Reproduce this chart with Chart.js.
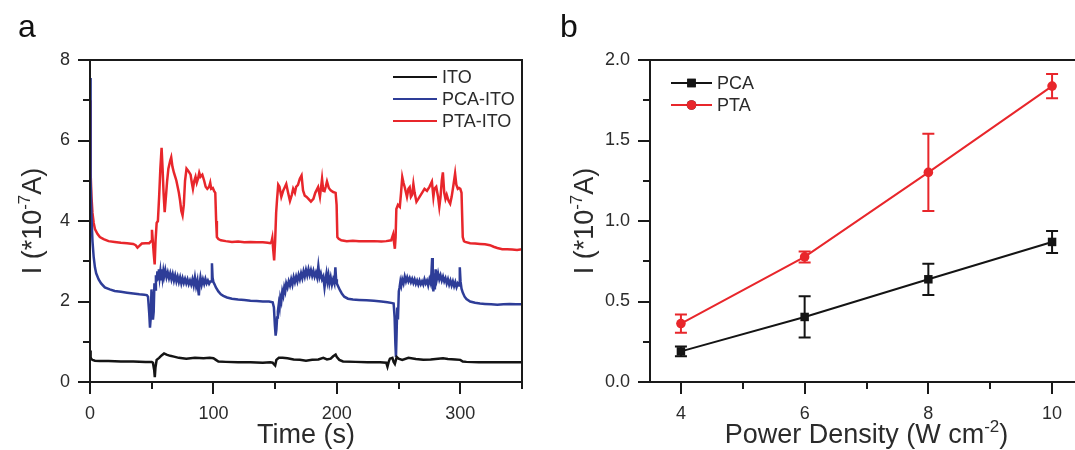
<!DOCTYPE html>
<html>
<head>
<meta charset="utf-8">
<script src="https://cdn.jsdelivr.net/npm/chart.js@4.4.1/dist/chart.umd.min.js"></script>
<style>
  html, body { margin: 0; padding: 0; background: #fff; overflow: hidden; }
  body { width: 1075px; height: 450px; position: relative; }
  canvas { position: absolute; top: 0; }
  #chartA { left: 0; }
  #chartB { left: 540px; }
</style>
</head>
<body>
<canvas id="chartA" width="540" height="450"></canvas>
<canvas id="chartB" width="560" height="450"></canvas>
<script>
// ---- panel a: photocurrent vs time, [t (s), I (1e-7 A)] ----
const itoTrace = [[0,0.78],[0.5,0.62],[1,0.57],[2,0.55],[4,0.53],[8,0.52],[15,0.52],[25,0.51],[35,0.51],[45,0.5],[50,0.5],[51,0.48],[52,0.3],[52.5,0.12],[53,0.35],[54,0.55],[56,0.6],[58,0.66],[60,0.71],[62,0.68],[65,0.65],[68,0.63],[72,0.6],[78,0.58],[85,0.6],[92,0.59],[97,0.6],[100,0.59],[102,0.55],[104,0.51],[110,0.5],[120,0.49],[130,0.49],[140,0.48],[146,0.49],[148,0.48],[149,0.44],[150,0.41],[151,0.55],[153,0.6],[156,0.6],[160,0.59],[165,0.56],[170,0.55],[175,0.53],[180,0.55],[185,0.56],[189,0.6],[192,0.56],[195,0.58],[197,0.64],[199,0.68],[200,0.62],[202,0.55],[205,0.51],[215,0.5],[225,0.49],[235,0.49],[240,0.48],[241,0.38],[242,0.5],[243,0.58],[245,0.6],[246,0.5],[247,0.45],[248.5,0.62],[250,0.58],[253,0.55],[258,0.6],[264,0.57],[270,0.55],[276,0.56],[282,0.58],[286,0.59],[290,0.57],[296,0.56],[300,0.55],[302,0.51],[305,0.5],[315,0.49],[325,0.49],[335,0.49],[345,0.49],[350,0.49]];

const pcaItoTrace = [[0,7.55],[0.3,6.2],[0.7,5.0],[1.2,4.1],[2,3.5],[3,3.1],[4,2.85],[5,2.7],[7,2.55],[9,2.45],[12,2.35],[16,2.3],[20,2.26],[25,2.24],[30,2.22],[35,2.2],[40,2.18],[44,2.17],[46,2.16],[47,2.12],[48,1.7],[48.6,1.35],[49.2,1.6],[49.8,2.3],[50.4,2.05],[51,1.55],[51.6,1.75],[52.2,2.45],[52.8,2.3],[53.4,2.65],[54,2.5],[54.6,2.75],[55.2,2.55],[55.8,2.8],[56.4,2.6],[57,2.75],[57.6,2.55],[58.2,2.8],[58.8,2.6],[59.4,2.75],[60,2.62],[61,2.78],[62,2.6],[63,2.72],[64,2.58],[65,2.7],[66,2.55],[67,2.68],[68,2.52],[69,2.65],[70,2.5],[71,2.62],[72,2.48],[73,2.6],[74,2.45],[75,2.58],[76,2.46],[77,2.56],[78,2.45],[79,2.55],[80,2.43],[81,2.52],[82,2.42],[83,2.55],[84,2.4],[85,2.6],[86,2.38],[87,2.52],[87.6,2.3],[88.2,2.15],[88.8,2.45],[89.5,2.6],[90.5,2.42],[91.5,2.55],[92.5,2.44],[93.5,2.56],[94.5,2.45],[95.5,2.52],[96.5,2.44],[97.5,2.5],[98.3,2.5],[98.8,2.95],[99.3,2.6],[100,2.48],[101,2.42],[102,2.35],[104,2.25],[106,2.18],[108,2.14],[111,2.1],[115,2.07],[120,2.05],[125,2.04],[130,2.02],[135,2.01],[140,2.0],[145,2.0],[148,1.98],[149,1.85],[149.8,1.4],[150.4,1.15],[151,1.3],[151.6,1.6],[152.2,1.75],[153,1.95],[153.6,1.85],[154.2,2.1],[155,2.0],[155.8,2.25],[156.6,2.15],[157.4,2.35],[158.2,2.25],[159,2.45],[160,2.35],[161,2.5],[162,2.4],[163,2.55],[164,2.42],[165,2.6],[166,2.48],[167,2.62],[168,2.5],[169,2.66],[170,2.55],[171,2.7],[172,2.58],[173,2.75],[174,2.62],[175,2.78],[176,2.65],[177,2.8],[178,2.66],[179,2.78],[180,2.64],[181,2.76],[182,2.62],[183,2.72],[184,2.6],[185,2.88],[186,2.6],[187,2.7],[188,2.55],[189,2.62],[190,2.35],[190.8,2.55],[191.6,2.7],[192.4,2.5],[193.2,2.65],[194,2.45],[195,2.6],[196,2.42],[197,2.55],[198,2.45],[198.8,2.85],[199.4,2.55],[200,2.45],[201,2.38],[202.5,2.28],[204,2.2],[206,2.12],[209,2.07],[213,2.05],[218,2.04],[224,2.03],[230,2.02],[236,2.0],[241,1.98],[245,1.96],[246,1.95],[246.8,1.6],[247.4,0.95],[247.9,0.62],[248.4,1.2],[248.9,1.85],[249.5,1.55],[250.2,2.25],[250.8,2.35],[251.5,2.5],[252.2,2.4],[253,2.55],[254,2.45],[255,2.62],[256,2.5],[257,2.6],[258,2.5],[259,2.58],[260,2.48],[261,2.56],[262,2.46],[263,2.55],[264,2.44],[265,2.52],[266,2.42],[267,2.52],[268,2.43],[269,2.5],[270,2.42],[271,2.55],[272,2.45],[273,2.52],[274,2.4],[275,2.55],[276,2.45],[276.6,2.7],[277.2,3.08],[277.7,2.5],[278.2,2.25],[278.8,2.7],[279.4,2.3],[280,2.8],[281,2.55],[282,2.7],[283,2.55],[284,2.65],[285,2.52],[286,2.62],[287,2.5],[288,2.58],[289,2.45],[290,2.55],[291,2.42],[292,2.52],[293,2.4],[294,2.5],[295,2.38],[296,2.48],[297,2.36],[298,2.45],[299,2.4],[299.6,2.85],[300.2,2.5],[301,2.32],[302,2.22],[303.5,2.12],[305,2.06],[308,2.0],[312,1.97],[316,1.95],[320,1.94],[325,1.93],[330,1.92],[335,1.93],[340,1.94],[345,1.93],[350,1.93]];

const ptaItoTrace = [[0,7.0],[0.3,6.0],[0.7,5.2],[1.2,4.6],[2,4.2],[3,3.95],[4,3.8],[6,3.68],[8,3.6],[11,3.55],[15,3.5],[20,3.48],[25,3.46],[30,3.45],[35,3.43],[37,3.4],[38.5,3.34],[40,3.38],[42,3.44],[45,3.45],[48,3.45],[49.5,3.5],[50.2,3.78],[50.9,3.5],[51.6,3.2],[52.4,2.92],[53.1,3.5],[54,3.95],[55,4.0],[56,4.6],[57,5.3],[58,5.82],[58.8,5.3],[59.6,4.7],[60.5,4.22],[61.5,4.6],[62.5,5.0],[63.5,5.3],[65,5.5],[65.8,5.58],[66.8,5.35],[68,5.2],[69,5.1],[70,5.0],[71,4.85],[72,4.7],[73,4.5],[74,4.25],[75,4.14],[76,4.4],[77,5.0],[78.2,5.3],[79.5,5.25],[80.5,5.2],[81.5,5.15],[82.5,4.95],[83.4,4.8],[84.5,5.0],[85.5,5.1],[86.5,4.95],[87.5,5.05],[88.5,5.2],[89.5,5.1],[91,5.15],[92.5,5.0],[93.7,4.85],[95,4.8],[96.5,4.85],[97.4,4.95],[98.2,4.8],[99.5,4.82],[100.5,4.75],[101.5,4.7],[102.2,4.0],[102.8,3.6],[104,3.55],[106,3.52],[110,3.5],[115,3.48],[120,3.49],[125,3.47],[130,3.48],[135,3.47],[140,3.47],[144,3.46],[146,3.45],[147,3.48],[147.7,3.58],[148.4,3.3],[149.2,3.02],[150,3.5],[150.8,4.2],[151.6,4.56],[152.5,4.9],[153.5,4.85],[155,4.6],[156.5,4.75],[158,4.85],[159,4.92],[160.5,4.7],[162,4.5],[163.5,4.65],[164.6,4.8],[166,4.7],[167,4.85],[168.5,4.9],[170,5.05],[171.4,5.13],[172.6,4.76],[174,4.63],[175.5,4.6],[177,4.55],[179,4.48],[181,4.55],[182.5,4.7],[184.8,4.84],[186.3,4.6],[188,5.05],[189,4.75],[190,4.74],[191,4.85],[192,4.98],[193.5,4.82],[195,4.76],[197,4.72],[199,4.7],[199.8,4.4],[200.4,3.6],[201.5,3.56],[203.6,3.52],[208,3.5],[213,3.51],[218,3.5],[224,3.5],[230,3.5],[236,3.49],[240,3.5],[244,3.52],[245.6,3.67],[246.4,3.45],[247,3.31],[247.6,3.6],[248.2,4.3],[249.5,4.4],[251,4.35],[252,4.7],[253,5.09],[254,4.95],[255,4.84],[256.8,4.6],[258,4.8],[259,4.84],[260,4.6],[261,4.65],[262,4.92],[263,4.7],[264.5,4.48],[266,4.55],[267,4.6],[269,4.7],[271,4.8],[273,4.75],[275,4.85],[277,4.98],[278.2,4.6],[279,4.8],[280.5,4.85],[282,4.6],[283,4.35],[284,4.6],[285,5.0],[285.9,5.21],[287,4.7],[288,4.55],[289,4.65],[290.5,4.5],[291.8,4.43],[293,4.6],[294.5,4.9],[295.8,5.18],[296.8,4.9],[298,4.8],[299,4.82],[300,4.8],[301,4.7],[302,3.6],[303,3.5],[304,3.48],[308,3.45],[312,3.44],[316,3.43],[320,3.42],[324,3.4],[327,3.36],[330,3.33],[334,3.3],[338,3.3],[342,3.29],[346,3.28],[350,3.3]];

const timeTicks = [0, 100, 200, 300];
const timeMinorTicks = [50, 150, 250, 350];
const currentTicksA = [0, 2, 4, 6, 8];
const currentMinorTicksA = [1, 3, 5, 7];

// ---- panel b: photocurrent vs power density ----
const powerDensity = [4, 6, 8, 10];
const pcaCurrent = [0.19, 0.404, 0.638, 0.87];
const pcaError = [0.03, 0.128, 0.097, 0.068];
const ptaCurrent = [0.363, 0.777, 1.302, 1.838];
const ptaError = [0.057, 0.034, 0.24, 0.075];

const powerTicks = [4, 6, 8, 10];
const powerMinorTicks = [5, 7, 9];
const currentTicksB = [0, 0.5, 1.0, 1.5, 2.0];
const currentMinorTicksB = [0.25, 0.75, 1.25, 1.75];

const FONT = 'Arial, "Liberation Sans", Helvetica, sans-serif';
const INK = '#1a1a1a';
const TEXT = '#2b2b2b';
const TITLE_SIZE = 27;

function toPoints(pairs) {
  return pairs.map(p => ({ x: p[0], y: p[1] }));
}

// text with superscript pieces: parts = [[str, isSup], ...]
function drawRich(ctx, parts, x, y, size) {
  const supSize = Math.round(size * 0.62);
  let total = 0;
  parts.forEach(([s, sup]) => {
    ctx.font = `${sup ? supSize : size}px ${FONT}`;
    total += ctx.measureText(s).width;
  });
  let cx = x - total / 2;
  ctx.textAlign = 'left';
  ctx.textBaseline = 'alphabetic';
  parts.forEach(([s, sup]) => {
    ctx.font = `${sup ? supSize : size}px ${FONT}`;
    ctx.fillText(s, cx, sup ? y - size * 0.42 : y);
    cx += ctx.measureText(s).width;
  });
}

// box frame, outward major/minor ticks, titles, panel letter
const decorations = {
  id: 'decorations',
  afterDraw(chart, args, o) {
    const { ctx, chartArea: a, scales: { x, y } } = chart;
    ctx.save();
    ctx.strokeStyle = INK;
    ctx.lineWidth = 2;
    ctx.beginPath();
    ctx.rect(a.left, a.top, a.right - a.left, a.bottom - a.top);
    ctx.stroke();

    const tick = (vals, len, horiz) => {
      vals.forEach(v => {
        ctx.beginPath();
        if (horiz) {
          const px = Math.round(x.getPixelForValue(v));
          ctx.moveTo(px, a.bottom);
          ctx.lineTo(px, a.bottom + len);
        } else {
          const py = Math.round(y.getPixelForValue(v));
          ctx.moveTo(a.left, py);
          ctx.lineTo(a.left - len, py);
        }
        ctx.stroke();
      });
    };
    tick(o.xMajor, 12, true);
    tick(o.xMinor, 7, true);
    tick(o.yMajor, 12, false);
    tick(o.yMinor, 7, false);

    ctx.fillStyle = TEXT;
    drawRich(ctx, o.xTitle, (a.left + a.right) / 2, 443, TITLE_SIZE);
    ctx.save();
    ctx.translate(o.yTitleX, (a.top + a.bottom) / 2);
    ctx.rotate(-Math.PI / 2);
    drawRich(ctx, o.yTitle, 0, 0, TITLE_SIZE);
    ctx.restore();

    ctx.font = `32px ${FONT}`;
    ctx.textAlign = 'left';
    ctx.textBaseline = 'alphabetic';
    ctx.fillStyle = '#111';
    ctx.fillText(o.letter, o.letterX, 37);
    ctx.restore();
  }
};

// legend drawn inside the plot area
const insideLegend = {
  id: 'insideLegend',
  afterDraw(chart, args, o) {
    const { ctx } = chart;
    ctx.save();
    chart.data.datasets.forEach((ds, i) => {
      const yy = o.y + i * o.gap;
      ctx.strokeStyle = ds.borderColor;
      ctx.lineWidth = 2;
      ctx.beginPath();
      ctx.moveTo(o.x, yy);
      ctx.lineTo(o.x + o.len, yy);
      ctx.stroke();
      if (ds.pointRadius > 0) {
        Chart.helpers.drawPoint(ctx, {
          pointStyle: ds.pointStyle, radius: ds.pointRadius, rotation: 0
        }, o.x + o.len / 2, yy);
        ctx.fillStyle = ds.backgroundColor;
        ctx.fill();
      }
      ctx.fillStyle = TEXT;
      ctx.font = `18px ${FONT}`;
      ctx.textAlign = 'left';
      ctx.textBaseline = 'middle';
      ctx.fillText(ds.label, o.x + o.len + 5, yy + 1);
    });
    ctx.restore();
  }
};

// vertical error bars with caps
const errorBars = {
  id: 'errorBars',
  beforeDatasetsDraw(chart) {
    const { ctx, scales: { x, y } } = chart;
    ctx.save();
    chart.data.datasets.forEach(ds => {
      if (!ds.errors) return;
      ctx.strokeStyle = ds.borderColor;
      ctx.lineWidth = 2;
      ds.data.forEach((p, i) => {
        const px = x.getPixelForValue(p.x);
        const top = y.getPixelForValue(p.y + ds.errors[i]);
        const bot = y.getPixelForValue(p.y - ds.errors[i]);
        ctx.beginPath();
        ctx.moveTo(px, top); ctx.lineTo(px, bot);
        ctx.moveTo(px - 6, top); ctx.lineTo(px + 6, top);
        ctx.moveTo(px - 6, bot); ctx.lineTo(px + 6, bot);
        ctx.stroke();
      });
    });
    ctx.restore();
  }
};

function axis(min, max, ticks, fmt, padding, fitKey, fitVal) {
  return {
    type: 'linear', min, max,
    grid: { display: false, drawTicks: false },
    border: { display: false },
    ticks: { font: { size: 18, family: FONT }, color: TEXT, padding, maxRotation: 0, callback: fmt },
    afterBuildTicks: s => { s.ticks = ticks.map(v => ({ value: v })); },
    afterFit: s => { s[fitKey] = fitVal; }
  };
}

new Chart(document.getElementById('chartA'), {
  type: 'line',
  data: {
    datasets: [
      { label: 'ITO', data: toPoints(itoTrace), borderColor: '#141414' },
      { label: 'PCA-ITO', data: toPoints(pcaItoTrace), borderColor: '#2e3d98' },
      { label: 'PTA-ITO', data: toPoints(ptaItoTrace), borderColor: '#e8262b' }
    ].map(d => Object.assign(d, { borderWidth: 2.5, pointRadius: 0, tension: 0, fill: false }))
  },
  options: {
    responsive: false,
    animation: false,
    layout: { autoPadding: false, padding: { left: 0, top: 60, right: 18, bottom: 0 } },
    scales: {
      x: axis(0, 350, timeTicks, v => String(v), 21, 'height', 68),
      y: axis(0, 8, currentTicksA, v => String(v), 20, 'width', 90)
    },
    plugins: {
      legend: { display: false },
      tooltip: { enabled: false },
      decorations: {
        xMajor: timeTicks, xMinor: timeMinorTicks,
        yMajor: currentTicksA, yMinor: currentMinorTicksA,
        xTitle: [['Time (s)', false]],
        yTitle: [['I (*10', false], ['-7', true], ['A)', false]],
        yTitleX: 41, letter: 'a', letterX: 18
      },
      insideLegend: { x: 393, y: 77, gap: 22, len: 44 }
    }
  },
  plugins: [decorations, insideLegend]
});

new Chart(document.getElementById('chartB'), {
  type: 'line',
  data: {
    datasets: [
      {
        label: 'PCA', borderColor: '#141414', backgroundColor: '#141414',
        pointStyle: 'rect', pointRadius: 6,
        data: powerDensity.map((v, i) => ({ x: v, y: pcaCurrent[i] })), errors: pcaError
      },
      {
        label: 'PTA', borderColor: '#e8262b', backgroundColor: '#e8262b',
        pointStyle: 'circle', pointRadius: 4.8,
        data: powerDensity.map((v, i) => ({ x: v, y: ptaCurrent[i] })), errors: ptaError
      }
    ].map(d => Object.assign(d, { borderWidth: 2, pointBorderWidth: 0, tension: 0, fill: false, clip: false }))
  },
  options: {
    responsive: false,
    animation: false,
    layout: { autoPadding: false, padding: { left: 0, top: 60, right: 17, bottom: 0 } },
    scales: {
      x: axis(3.5, 10.5, powerTicks, v => String(v), 21, 'height', 68),
      y: axis(0, 2, currentTicksB, v => v.toFixed(1), 20, 'width', 110)
    },
    plugins: {
      legend: { display: false },
      tooltip: { enabled: false },
      decorations: {
        xMajor: powerTicks, xMinor: powerMinorTicks,
        yMajor: currentTicksB, yMinor: currentMinorTicksB,
        xTitle: [['Power Density (W cm', false], ['-2', true], [')', false]],
        yTitle: [['I (*10', false], ['-7', true], ['A)', false]],
        yTitleX: 53, letter: 'b', letterX: 20
      },
      insideLegend: { x: 131, y: 83, gap: 22, len: 41 }
    }
  },
  plugins: [errorBars, decorations, insideLegend]
});
</script>
</body>
</html>
